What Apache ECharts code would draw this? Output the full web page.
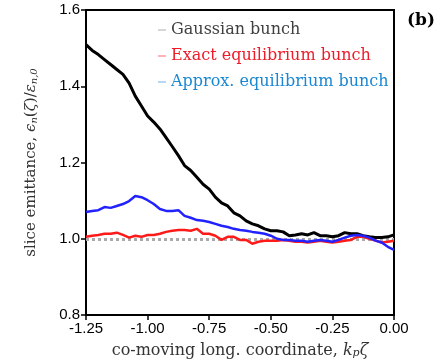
<!DOCTYPE html>
<html>
<head>
<meta charset="utf-8">
<script src="https://cdn.jsdelivr.net/npm/echarts@6/dist/echarts.min.js"></script>
<style>html,body{margin:0;padding:0;background:#fff;}#c{width:443px;height:364px;}</style>
</head>
<body>
<div id="c"></div>
<script>
// longitudinal coordinate grid k_p*zeta
const zeta = [-1.25,-1.225,-1.2,-1.175,-1.15,-1.125,-1.1,-1.075,-1.05,-1.025,-1.0,-0.975,-0.95,-0.925,-0.9,-0.875,-0.85,-0.825,-0.8,-0.775,-0.75,-0.725,-0.7,-0.675,-0.65,-0.625,-0.6,-0.575,-0.55,-0.525,-0.5,-0.475,-0.45,-0.425,-0.4,-0.375,-0.35,-0.325,-0.3,-0.275,-0.25,-0.225,-0.2,-0.175,-0.15,-0.125,-0.1,-0.075,-0.05,-0.025,0.0];
const gaussian = [1.509,1.494,1.483,1.470,1.457,1.444,1.431,1.408,1.374,1.348,1.322,1.306,1.288,1.265,1.242,1.218,1.192,1.179,1.161,1.143,1.130,1.109,1.094,1.086,1.068,1.060,1.047,1.039,1.034,1.026,1.021,1.021,1.018,1.008,1.010,1.013,1.010,1.016,1.008,1.008,1.005,1.008,1.016,1.013,1.013,1.008,1.005,1.003,1.003,1.005,1.010];
const exact = [1.005,1.008,1.010,1.013,1.013,1.016,1.010,1.003,1.008,1.005,1.010,1.010,1.013,1.018,1.021,1.023,1.023,1.021,1.026,1.013,1.013,1.008,0.997,1.005,1.005,0.997,0.997,0.987,0.992,0.995,0.995,0.995,0.997,0.995,0.992,0.992,0.990,0.992,0.995,0.992,0.990,0.992,0.995,0.997,1.005,1.005,1.000,0.995,0.990,0.992,0.995];
const approx = [1.070,1.073,1.075,1.083,1.081,1.086,1.091,1.099,1.112,1.109,1.101,1.091,1.078,1.073,1.073,1.075,1.060,1.055,1.049,1.047,1.044,1.039,1.034,1.031,1.026,1.023,1.021,1.018,1.016,1.013,1.008,1.000,0.997,0.997,0.995,0.995,0.992,0.995,0.997,0.995,0.992,0.997,1.003,1.008,1.010,1.008,1.003,0.995,0.990,0.979,0.971];
const xTicks = [-1.25,-1.0,-0.75,-0.5,-0.25,0.0];
const yTicks = [0.8,1.0,1.2,1.4,1.6];
const names = ['Gaussian bunch','Exact equilibrium bunch','Approx. equilibrium bunch'];

const pair = arr => zeta.map((z,i)=>[z,arr[i]]);
const serif = 'DejaVu Serif';
const chart = echarts.init(document.getElementById('c'));
chart.setOption({
  animation:false,
  backgroundColor:'#fff',
  grid:{left:86,right:49,top:10,bottom:46,show:true,borderColor:'#000',borderWidth:2,backgroundColor:'transparent'},
  legend:{
    orient:'vertical',left:153,top:17,itemWidth:8,itemHeight:1.5,itemGap:10,icon:'rect',
    textStyle:{fontFamily:serif,fontSize:16},
    data:[
      {name:names[0],itemStyle:{color:'#c8c8c8'},textStyle:{color:'#404040'}},
      {name:names[1],itemStyle:{color:'#ff9aa0'},textStyle:{color:'#ee1c2a'}},
      {name:names[2],itemStyle:{color:'#9ccdf0'},textStyle:{color:'#1b87d2'}}
    ]
  },
  xAxis:{
    type:'value',min:-1.25,max:0,interval:0.25,
    axisLine:{show:true,onZero:false,lineStyle:{color:'#000',width:2}},
    axisTick:{show:true,inside:false,length:5,lineStyle:{color:'#000',width:1.5}},
    splitLine:{show:false},
    axisLabel:{color:'#000',fontFamily:'Liberation Sans',fontSize:15,margin:6,formatter:v=>v.toFixed(2)},
    name:'{a|co-moving long. coordinate, }{i|k}{s|p}{i|ζ}',
    nameLocation:'middle',nameGap:27,
    nameTextStyle:{rich:{
      a:{fontFamily:serif,fontSize:16,color:'#333'},
      i:{fontFamily:serif,fontStyle:'italic',fontSize:16,color:'#333'},
      s:{fontFamily:serif,fontStyle:'italic',fontSize:11,color:'#333',padding:[6,0,0,0]}
    }}
  },
  yAxis:{
    type:'value',min:0.8,max:1.6,interval:0.2,
    axisLine:{show:true,onZero:false,lineStyle:{color:'#000',width:2}},
    axisTick:{show:true,inside:false,length:5,lineStyle:{color:'#000',width:1.5}},
    splitLine:{show:false},
    axisLabel:{color:'#000',fontFamily:'Liberation Sans',fontSize:15,margin:6,formatter:v=>v.toFixed(1)},
    name:'{a|slice emittance, }{i|ϵ}{s|n}{a|(}{i|ζ}{a|)/}{i|ε}{s|n,0}',
    nameLocation:'middle',nameGap:47,nameRotate:90,
    nameTextStyle:{rich:{
      a:{fontFamily:serif,fontSize:15,color:'#333'},
      i:{fontFamily:serif,fontStyle:'italic',fontSize:15,color:'#333'},
      s:{fontFamily:serif,fontStyle:'italic',fontSize:10,color:'#333',padding:[6,0,0,0]}
    }}
  },
  graphic:[{type:'text',right:8,top:12,style:{text:'(b)',font:'bold 17px "DejaVu Serif"',fill:'#000'}}],
  series:[
    {name:names[0],type:'line',data:pair(gaussian),symbol:'none',lineStyle:{color:'#000',width:3},itemStyle:{color:'#000'},z:3,
     markLine:{silent:true,symbol:'none',label:{show:false},lineStyle:{color:'#aaaaaa',type:[3,3],width:3},data:[{yAxis:1.0}],z:1}},
    {name:names[1],type:'line',data:pair(exact),symbol:'none',lineStyle:{color:'#ff1a1a',width:2.5},itemStyle:{color:'#ff1a1a'},z:4},
    {name:names[2],type:'line',data:pair(approx),symbol:'none',lineStyle:{color:'#2222ff',width:2.5},itemStyle:{color:'#2222ff'},z:5}
  ]
});
</script>
</body>
</html>
